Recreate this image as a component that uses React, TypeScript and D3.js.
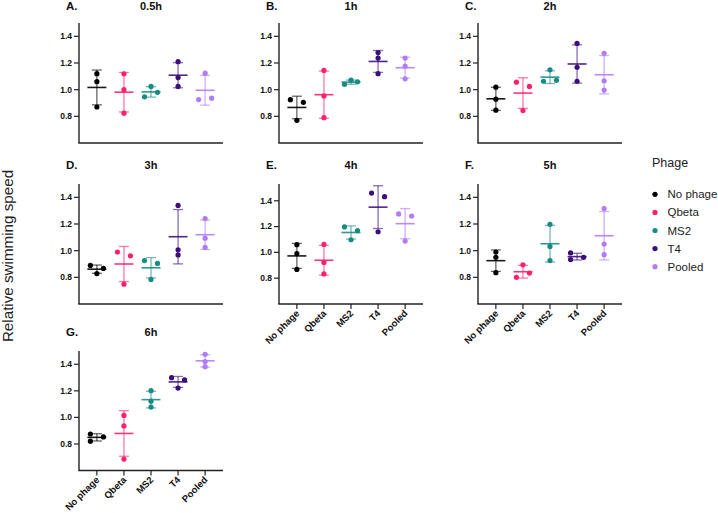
import React from "react";
import * as d3 from "d3";

const categories = ["No phage", "Qbeta", "MS2", "T4", "Pooled"];
const colors = ["#000000", "#ff1f6f", "#178c85", "#3c0d7c", "#b07cf6"];
const panelLetters = ["A.", "B.", "C.", "D.", "E.", "F.", "G."];
const timepoints = ["0.5h", "1h", "2h", "3h", "4h", "5h", "6h"];
const yTicks = [0.8, 1.0, 1.2, 1.4];
const yMin = [0.6, 0.6, 0.6, 0.6, 0.6, 0.6, 0.6];
const yMax = [1.5, 1.5, 1.5, 1.5, 1.53, 1.5, 1.5];
const showXLabels = [false, false, false, false, true, true, true];

// replicate values per category (No phage, Qbeta, MS2, T4, Pooled)
const h05 = [[1.12, 1.06, 0.87], [1.119, 1.0, 0.824], [0.946, 0.98, 1.024], [1.21, 1.091, 1.024], [0.926, 0.936, 1.124]];
const h1 = [[0.925, 0.905, 0.77], [1.144, 0.953, 0.79], [1.04, 1.071, 1.059], [1.278, 1.237, 1.12], [1.237, 1.176, 1.081]];
const h2 = [[1.019, 0.929, 0.846], [1.056, 1.024, 0.843], [1.063, 1.07, 1.149], [1.347, 1.168, 1.063], [1.273, 1.066, 0.997]];
const h3 = [[0.889, 0.867, 0.828], [0.99, 0.961, 0.749], [0.926, 0.904, 0.784], [1.339, 1.007, 0.968], [1.241, 1.094, 1.024]];
const h4 = [[1.06, 0.99, 0.868], [1.062, 0.922, 0.833], [1.197, 1.168, 1.098], [1.46, 1.432, 1.16], [1.298, 1.282, 1.088]];
const h5 = [[0.99, 0.95, 0.835], [0.8, 0.832, 0.894], [1.198, 1.032, 0.926], [0.983, 0.95, 0.933], [1.316, 1.05, 0.97]];
const h6 = [[0.875, 0.853, 0.821], [1.015, 0.936, 0.686], [1.201, 1.122, 1.078], [1.299, 1.282, 1.221], [1.475, 1.421, 1.382]];
const panelData = [h05, h1, h2, h3, h4, h5, h6];

const FONT = "'Liberation Sans', Arial, Helvetica, sans-serif";
const colX = [79, 279, 478];
const rowTop = [23, 184, 351];
const rowBottom = [143, 304, 470.5];
const titleBase = [10, 169, 336];
const PW = 144;

function jitter(vals: number[], y: (v: number) => number, thr = 4.7, half = 6.5) {
  const ys = vals.map(y);
  const slots: number[] = [];
  vals.forEach((_, i) => {
    let k = 0;
    while (slots.some((s, j) => s === k && Math.abs(ys[j] - ys[i]) < thr)) k++;
    slots.push(k);
  });
  const parent = vals.map((_, i) => i);
  const find = (i: number): number => (parent[i] === i ? i : (parent[i] = find(parent[i])));
  for (let i = 0; i < vals.length; i++)
    for (let j = i + 1; j < vals.length; j++)
      if (Math.abs(ys[i] - ys[j]) < thr) parent[find(i)] = find(j);
  return vals.map((_, i) => {
    const members = vals.map((_, j) => j).filter((j) => find(j) === find(i));
    const ss = members.map((j) => slots[j]);
    const mn = Math.min(...ss), mx = Math.max(...ss);
    const n = mx - mn;
    const sp = n > 0 ? (2 * half) / n : 0;
    return (slots[i] - (mn + mx) / 2) * sp;
  });
}

function Panel({ idx }: { idx: number }) {
  const col = idx === 6 ? 0 : idx % 3;
  const row = Math.floor(idx / 3);
  const x0 = colX[col];
  const top = rowTop[row];
  const bottom = rowBottom[row];
  const x = d3.scalePoint<string>().domain(categories).range([x0, x0 + PW]).padding(0.66);
  const y = d3.scaleLinear().domain([yMin[idx], yMax[idx]]).range([bottom, top]);
  const data = panelData[idx];
  return (
    <g>
      <text x={x0 - 13} y={titleBase[row]} fontFamily={FONT} fontWeight="bold" fontSize={11.5} fill="#111">
        {panelLetters[idx]}
      </text>
      <text x={x0 + PW / 2} y={titleBase[row]} textAnchor="middle" fontFamily={FONT} fontWeight="bold" fontSize={11} fill="#111">
        {timepoints[idx]}
      </text>
      <line x1={x0} x2={x0} y1={top} y2={bottom} stroke="#222" strokeWidth={1.4} />
      <line x1={x0 - 0.7} x2={x0 + PW} y1={bottom} y2={bottom} stroke="#222" strokeWidth={1.4} />
      {yTicks.map((t) => (
        <g key={t}>
          <line x1={x0 - 5} x2={x0} y1={y(t)} y2={y(t)} stroke="#222" strokeWidth={1.2} />
          <text x={x0 - 7} y={y(t)} dy="0.34em" textAnchor="end" fontFamily={FONT} fontWeight="bold" fontSize={8.5} fill="#111">
            {d3.format(".1f")(t)}
          </text>
        </g>
      ))}
      {showXLabels[idx] &&
        categories.map((c) => (
          <g key={c}>
            <line x1={x(c)!} x2={x(c)!} y1={bottom} y2={bottom + 5} stroke="#222" strokeWidth={1.2} />
            <text
              transform={`translate(${x(c)! + 3},${bottom + 10}) rotate(-45)`}
              textAnchor="end"
              fontFamily={FONT}
              fontWeight="bold"
              fontSize={9.5}
              fill="#111"
            >
              {c}
            </text>
          </g>
        ))}
      {categories.map((c, ci) => {
        const vals = data[ci];
        const m = d3.mean(vals)!;
        const sd = d3.deviation(vals)!;
        const cx = x(c)!;
        const offs = jitter(vals, (v) => y(v));
        return (
          <g key={c}>
            <g stroke={colors[ci]} strokeWidth={1.3} strokeOpacity={0.6}>
              <line x1={cx} x2={cx} y1={y(m + sd)} y2={y(m - sd)} />
              <line x1={cx - 5} x2={cx + 5} y1={y(m + sd)} y2={y(m + sd)} />
              <line x1={cx - 5} x2={cx + 5} y1={y(m - sd)} y2={y(m - sd)} />
            </g>
            <line x1={cx - 9.5} x2={cx + 9.5} y1={y(m)} y2={y(m)} stroke={colors[ci]} strokeWidth={1.6} strokeOpacity={0.9} />
            {vals.map((v, i) => (
              <circle key={i} cx={cx + offs[i]} cy={y(v)} r={2.6} fill={colors[ci]} />
            ))}
          </g>
        );
      })}
    </g>
  );
}

export default function App() {
  return (
    <svg width={718} height={513} style={{ position: "absolute", left: 0, top: 0, background: "#fff" }}>
      <rect width={718} height={513} fill="#fff" />
      <text
        transform="translate(12.5,256) rotate(-90)"
        textAnchor="middle"
        fontFamily={FONT}
        fontSize={15.2}
        fill="#222"
      >
        Relative swimming speed
      </text>
      {panelData.map((_, i) => (
        <Panel key={i} idx={i} />
      ))}
      <text x={652} y={167} fontFamily={FONT} fontSize={12.5} fill="#222">
        Phage
      </text>
      {categories.map((c, i) => (
        <g key={c}>
          <circle cx={655} cy={194.3 + i * 18.1} r={2.6} fill={colors[i]} />
          <text x={667.5} y={194.3 + i * 18.1} dy="0.35em" fontFamily={FONT} fontSize={11.5} fill="#222">
            {c}
          </text>
        </g>
      ))}
    </svg>
  );
}
